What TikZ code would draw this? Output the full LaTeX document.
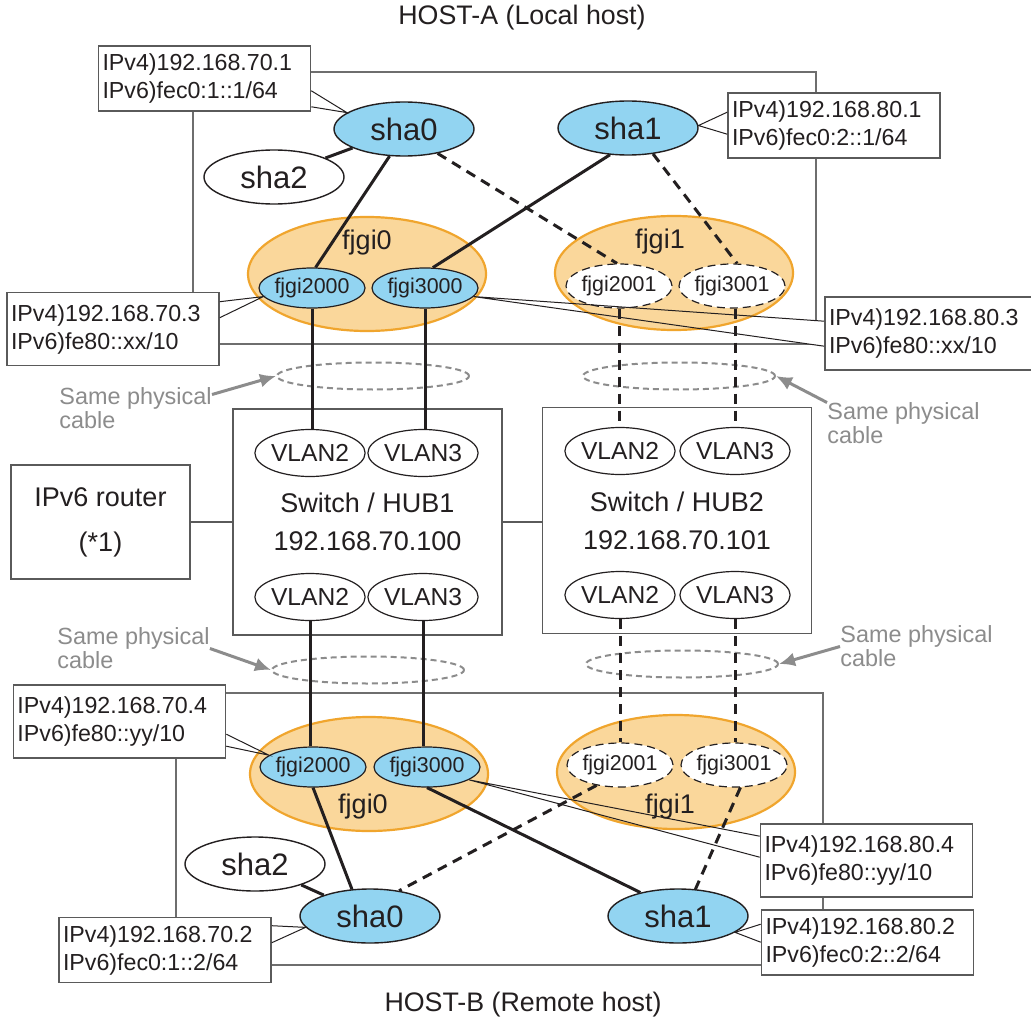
\documentclass[tikz,border=0pt]{standalone}
\usepackage{fontspec}
\setmainfont{Liberation Sans}
\usetikzlibrary{arrows.meta,calc,shapes.geometric}
\definecolor{shablue}{RGB}{146,212,241}
\definecolor{grpfill}{RGB}{250,215,155}
\definecolor{grpline}{RGB}{240,165,45}
\definecolor{ink}{RGB}{35,31,32}
\definecolor{boxgray}{RGB}{90,90,90}
\definecolor{hostgray}{RGB}{110,110,110}
\definecolor{notegray}{RGB}{140,140,140}
\newcommand{\fsz}[2]{\fontsize{#1}{#2}\selectfont}
\pgfdeclarelayer{hostlayer}
\pgfdeclarelayer{wedgelayer}
\pgfsetlayers{hostlayer,wedgelayer,main}
\tikzset{
  sha/.style={ellipse,draw=ink,line width=0.7pt,fill=shablue,minimum width=70pt,minimum height=27pt,inner sep=0pt,font=\fsz{15.5}{18}},
  shaidle/.style={sha,fill=white},
  grp/.style={ellipse,draw=grpline,line width=1.1pt,fill=grpfill,minimum width=119pt,minimum height=57pt},
  grplabel/.style={font=\fsz{13.5}{16},inner sep=0pt},
  phys/.style={ellipse,draw=ink,line width=0.6pt,fill=shablue,minimum width=53pt,minimum height=20pt,inner sep=0pt,font=\fsz{10.7}{12}},
  physidle/.style={phys,fill=white,dash pattern=on 4pt off 2.5pt,minimum height=22pt},
  vlan/.style={ellipse,draw=ink,line width=0.6pt,fill=white,minimum width=53pt,minimum height=23.5pt,inner sep=0pt,font=\fsz{12.3}{14}},
  ring/.style={ellipse,draw=notegray,line width=1pt,dash pattern=on 3pt off 2pt,minimum width=96pt,minimum height=13.5pt,inner sep=0pt},
  hub/.style={rectangle,draw=boxgray,line width=0.8pt,minimum width=134.5pt,minimum height=113pt,align=center,font=\fsz{13.5}{19}},
  router/.style={rectangle,draw=boxgray,line width=0.8pt,minimum width=89.5pt,minimum height=57pt,align=center,font=\fsz{13.5}{22.5}},
  ipbox/.style={rectangle,draw=boxgray,line width=0.8pt,fill=white,minimum width=106pt,minimum height=32.5pt,text width=102pt,inner xsep=2pt,inner ysep=0pt,align=left,font=\fsz{11.6}{14}},
  iptall/.style={ipbox,minimum height=36.5pt},
  leader/.style={draw=ink,line width=0.5pt},
  link/.style={draw=ink,line width=1.5pt},
  vlink/.style={link,dash pattern=on 5pt off 3.5pt},
  wire/.style={draw=boxgray,line width=0.8pt},
  note/.style={text=notegray,align=left,inner sep=0pt,font=\fsz{11.7}{12}},
  notearrow/.style={draw=notegray,line width=1.5pt,-{Latex[length=8pt,width=7pt]}},
  hostrect/.style={draw=hostgray,line width=0.8pt},
  title/.style={font=\fsz{13.4}{16},inner sep=0pt}
}

\begin{document}
\begin{tikzpicture}[x=0.5pt,y=-0.5pt,text=ink]
  \useasboundingbox (0,0) rectangle (1031,1021);
  \begin{pgfonlayer}{hostlayer}
    \fill[white] (0,0) rectangle (1031,1021);
    \draw[hostrect] (193,72) rectangle (816,344);
    \draw[hostrect] (176,693) rectangle (823,965);
  \end{pgfonlayer}

  % HOST-A
  \node[title] (hosta) at (522,18) {HOST-A (Local host)};
  \node[grp] (grp0t) at (367,274) {};
  \node[grp] (grp1t) at (674,273) {};
  \node[grplabel] at (367,243) {fjgi0};
  \node[grplabel] at (660,242) {fjgi1};
  \node[phys] (f2000t) at (312,288) {fjgi2000};
  \node[phys] (f3000t) at (425,288) {fjgi3000};
  \node[physidle] (f2001t) at (619,286) {fjgi2001};
  \node[physidle] (f3001t) at (732,286) {fjgi3001};
  \node[sha] (sha0t) at (404,129) {sha0};
  \node[sha] (sha1t) at (628,128) {sha1};
  \node[shaidle] (sha2t) at (274,177) {sha2};

  % switches
  \node[ring] (ringa) at (373,376) {};
  \node[ring] (ringb) at (679,376) {};
  \node[ring] (ringc) at (368,670) {};
  \node[ring] (ringd) at (682,664) {};
  \node[hub] (sw1) at (367.5,522) {Switch / HUB1\\192.168.70.100};
  \node[hub] (sw2) at (677,520.5) {Switch / HUB2\\192.168.70.101};
  \node[router] (rt) at (100.5,522) {IPv6 router\\(*1)};
  \node[vlan] (v2a) at (310,453) {VLAN2};
  \node[vlan] (v3a) at (423,453) {VLAN3};
  \node[vlan] (v2c) at (310,597) {VLAN2};
  \node[vlan] (v3c) at (423,597) {VLAN3};
  \node[vlan] (v2b) at (620,451) {VLAN2};
  \node[vlan] (v3b) at (735,451) {VLAN3};
  \node[vlan] (v2d) at (620,595) {VLAN2};
  \node[vlan] (v3d) at (735,595) {VLAN3};

  % HOST-B
  \node[title] (hostb) at (523,1005) {HOST-B (Remote host)};
  \node[grp] (grp0b) at (369,774) {};
  \node[grp] (grp1b) at (676,772) {};
  \node[grplabel] at (363,807) {fjgi0};
  \node[grplabel] at (670,807) {fjgi1};
  \node[phys] (f2000b) at (313,767) {fjgi2000};
  \node[phys] (f3000b) at (427,767) {fjgi3000};
  \node[physidle] (f2001b) at (620,765) {fjgi2001};
  \node[physidle] (f3001b) at (734,765) {fjgi3001};
  \node[sha] (sha0b) at (370,916) {sha0};
  \node[sha] (sha1b) at (678,916) {sha1};
  \node[shaidle] (sha2b) at (255,864) {sha2};

  % notes
  \node[note,anchor=west] (notea) at (59,408) {Same physical\\cable};
  \node[note,anchor=west] (noteb) at (827,423.5) {Same physical\\cable};
  \node[note,anchor=west] (notec) at (57,648.5) {Same physical\\cable};
  \node[note,anchor=west] (noted) at (840,646.5) {Same physical\\cable};
  \draw[notearrow] (notea.10) -- (ringa.west);
  \draw[notearrow] (noteb.north west) -- (ringb.east);
  \draw[notearrow] (notec.east) -- (ringc.west);
  \draw[notearrow] (noted.west) -- (ringd.east);

  % links
  \draw[link] (sha2t) -- (sha0t);
  \draw[link] (sha0t.242) -- (f2000t.80);
  \draw[link] (sha1t.236) -- (f3000t.69);
  \draw[vlink] (sha0t.324) -- (f2001t.95);
  \draw[vlink] (sha1t.314) -- (f3001t.77);
  \draw[link] (f2000t.south) -- (f2000t.south |- v2a.north);
  \draw[link] (f3000t.south) -- (f3000t.south |- v3a.north);
  \draw[vlink] (f2001t.south) -- (f2001t.south |- v2b.north);
  \draw[vlink] (v3b.north |- f3001t.south) -- (v3b.north);
  \draw[link] (v2c.south) -- (v2c.south |- f2000b.north);
  \draw[link] (v3c.south) -- (v3c.south |- f3000b.north);
  \draw[vlink] (v2d.south) -- (v2d.south |- f2001b.north);
  \draw[vlink] (v3d.south) -- (v3d.south |- f3001b.north);
  \draw[link] (f2000b.south) -- (sha0b.124);
  \draw[link] (f3000b.south) -- (sha1b.148);
  \draw[vlink] (f2001b.221) -- (sha0b.41);
  \draw[vlink] (f3001b.286) -- (sha1b.57);
  \draw[link] (sha2b) -- (sha0b);
  \draw[wire] (rt.east) -- (sw1.west);
  \draw[wire] (sw1.east) -- (sw1.east -| sw2.west);

  % address boxes
  \node[ipbox] (ip701) at (204.5,78.5) {IPv4)192.168.70.1\\IPv6)fec0:1::1/64};
  \node[iptall] (ip703) at (113,329) {IPv4)192.168.70.3\\IPv6)fe80::xx/10};
  \node[ipbox] (ip801) at (834,125.5) {IPv4)192.168.80.1\\IPv6)fec0:2::1/64};
  \node[iptall] (ip803) at (931,333.5) {IPv4)192.168.80.3\\IPv6)fe80::xx/10};
  \node[iptall] (ip704) at (119.5,721.5) {IPv4)192.168.70.4\\IPv6)fe80::yy/10};
  \node[iptall] (ip804) at (866.5,860.5) {IPv4)192.168.80.4\\IPv6)fe80::yy/10};
  \node[ipbox] (ip702) at (165,950) {IPv4)192.168.70.2\\IPv6)fec0:1::2/64};
  \node[ipbox] (ip802) at (867.5,942.5) {IPv4)192.168.80.2\\IPv6)fec0:2::2/64};

  \foreach \bx/\tip/\corner/\da/\db in {ip701/sha0t.164/south east/-21/-5,
      ip703/f2000t.190/north east/10/26, ip801/sha1t.2/north west/20/42,
      ip803/f3000t.350/north west/25/50, ip704/f2000b.165/north east/50/62,
      ip804/f3000b.343/north west/13/34, ip702/sha0b.190/north east/9/26,
      ip802/sha1b.344/north west/15/33} {
    \begin{pgfonlayer}{wedgelayer}
      \fill[white] ($(\bx.\corner)+(0,\da)$) -- (\tip) -- ($(\bx.\corner)+(0,\db)$) -- cycle;
    \end{pgfonlayer}
    \draw[leader] ($(\bx.\corner)+(0,\da)$) -- (\tip) -- ($(\bx.\corner)+(0,\db)$);
  }
\end{tikzpicture}
\end{document}
